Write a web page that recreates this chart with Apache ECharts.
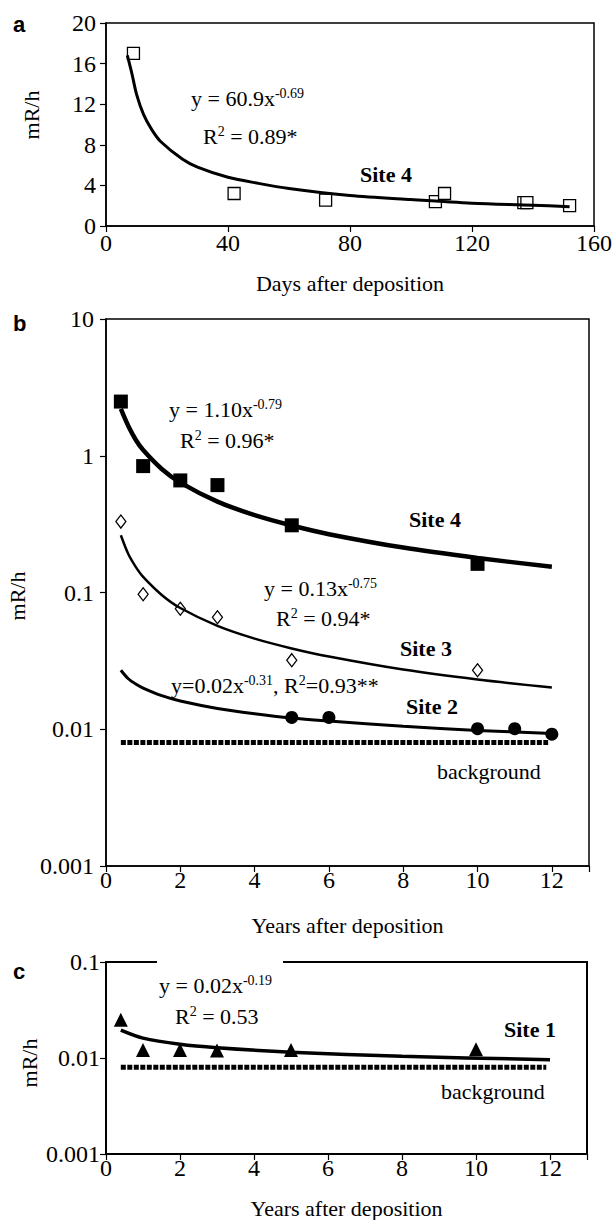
<!DOCTYPE html>
<html>
<head>
<meta charset="utf-8">
<title>Dose rate after deposition</title>
<script src="https://cdn.jsdelivr.net/npm/echarts@6/dist/echarts.min.js"></script>
<style>
  html, body { margin: 0; padding: 0; background: #fff; }
  #chart { width: 615px; height: 1220px; }
</style>
</head>
<body>
<div id="chart"></div>
<script>
// panel a - days after deposition, site 4
var daysA = [9, 42, 72, 108, 111, 137, 138, 152];
var rateA = [17.0, 3.2, 2.55, 2.4, 3.2, 2.3, 2.3, 2.0];
var fitDaysA = [7, 8.5, 10, 12.3, 15, 18, 25, 30, 40, 50, 60, 80, 100, 120, 140, 152];
var fitRateA = [16.8, 15.0, 13.0, 11.0, 9.5, 8.3, 6.6, 5.8, 4.8, 4.2, 3.7, 3.0, 2.6, 2.25, 2.05, 1.9];

// panel b - years after deposition
var years4 = [0.4, 1, 2, 3, 5, 10];
var site4 = [2.49, 0.84, 0.66, 0.61, 0.31, 0.162];
var years3 = [0.4, 1, 2, 3, 5, 10];
var site3 = [0.33, 0.097, 0.076, 0.066, 0.032, 0.027];
var years2 = [5, 6, 10, 11, 12];
var site2 = [0.0122, 0.0122, 0.0101, 0.0101, 0.0092];

var fitYears = [0.4, 0.6, 0.8, 1, 1.5, 2, 3, 4, 5, 6, 8, 10, 12];
var fitSite4 = [2.2, 1.65, 1.31, 1.1, 0.8, 0.636, 0.462, 0.368, 0.309, 0.267, 0.213, 0.179, 0.154];
var fitSite3 = [0.262, 0.191, 0.154, 0.13, 0.096, 0.077, 0.057, 0.046, 0.039, 0.034, 0.0273, 0.0231, 0.0202];
var fitSite2 = [0.027, 0.0234, 0.0214, 0.02, 0.0176, 0.0161, 0.0142, 0.013, 0.0121, 0.0115, 0.0105, 0.0098, 0.0093];

// panel c - site 1
var years1 = [0.4, 1, 2, 3, 5, 10];
var site1 = [0.025, 0.0121, 0.0121, 0.012, 0.0121, 0.0123];
var fitYears1 = [0.4, 1, 2, 3, 5, 8, 12];
var fitSite1 = [0.0195, 0.0161, 0.0139, 0.0128, 0.0115, 0.0104, 0.0096];

var bgYears = [0.4, 11.9];
var bgRate = [0.008, 0.008];

var serif = 'Liberation Serif';
var tickSize = 24;

function pairs(xs, ys) {
    var out = [];
    for (var i = 0; i < xs.length; i++) {
        out.push([xs[i], ys[i]]);
    }
    return out;
}

function logLabel(v) {
    return String(parseFloat(Number(v).toPrecision(3)));
}

var richText = {
    n: { fontFamily: serif, fontSize: 22, color: '#000', lineHeight: 24 },
    s: { fontFamily: serif, fontSize: 14, color: '#000', verticalAlign: 'top', lineHeight: 24 },
    b: { fontFamily: serif, fontSize: 22, fontWeight: 'bold', color: '#000', lineHeight: 24 }
};

function txt(x, y, text) {
    return {
        type: 'text', x: x, y: y, z: 110,
        style: { text: text, rich: richText, align: 'left', verticalAlign: 'middle' }
    };
}

function yName(x, y) {
    return {
        type: 'text', x: x, y: y, rotation: Math.PI / 2, z: 110,
        style: { text: 'mR/h', font: '22px ' + serif, fill: '#000', align: 'center', verticalAlign: 'middle' }
    };
}

function panelLetter(x, y, letter) {
    return {
        type: 'text', x: x, y: y, z: 110,
        style: { text: letter, font: 'bold 22px Liberation Sans', fill: '#000', align: 'left', verticalAlign: 'middle' }
    };
}

function xAxisOf(idx, max, interval, name, gap, margin) {
    return {
        type: 'value', gridIndex: idx, min: 0, max: max, interval: interval,
        name: name, nameLocation: 'middle', nameGap: gap,
        nameTextStyle: { fontFamily: serif, fontSize: 22, color: '#000' },
        axisLine: { onZero: false, lineStyle: { color: '#000', width: 1.5 } },
        axisTick: { length: 6, lineStyle: { color: '#000', width: 1.2 } },
        axisLabel: {
            fontFamily: serif, fontSize: tickSize, color: '#000', margin: margin,
            formatter: function (v) { return v > 12 && max === 13 ? '' : String(v); }
        },
        splitLine: { show: false }
    };
}

function logYAxis(idx, min, max, margin) {
    return {
        type: 'log', logBase: 10, gridIndex: idx, min: min, max: max,
        axisLine: { lineStyle: { color: '#000', width: 1.5 } },
        axisTick: { length: 6, lineStyle: { color: '#000', width: 1.2 } },
        axisLabel: { fontFamily: serif, fontSize: tickSize, color: '#000', margin: margin, formatter: logLabel },
        splitLine: { show: false }
    };
}

function fitLine(xi, ys, data, width) {
    return {
        type: 'line', xAxisIndex: xi, yAxisIndex: ys, data: data, smooth: 0.3,
        showSymbol: false, symbol: 'none',
        lineStyle: { color: '#000', width: width }
    };
}

function bgLine(idx) {
    return {
        type: 'line', xAxisIndex: idx, yAxisIndex: idx, data: pairs(bgYears, bgRate),
        symbol: 'none',
        lineStyle: { color: '#000', width: 5, type: [5, 1.5] }
    };
}

var chart = echarts.init(document.getElementById('chart'), null, { renderer: 'svg' });

var option = {
    backgroundColor: '#fff',
    animation: false,
    grid: [
        { left: 106, top: 23, width: 492, height: 203, show: true, borderColor: '#000', borderWidth: 1.5 },
        { left: 106, top: 319, width: 483, height: 547, show: true, borderColor: '#000', borderWidth: 1.5 },
        { left: 106, top: 962, width: 481, height: 192, show: true, borderColor: '#000', borderWidth: 2 }
    ],
    xAxis: [
        xAxisOf(0, 160, 40, 'Days after deposition', 46, 5),
        xAxisOf(1, 13, 2, 'Years after deposition', 48, 2),
        xAxisOf(2, 13, 2, 'Years after deposition', 43, 2)
    ],
    yAxis: [
        {
            type: 'value', gridIndex: 0, min: 0, max: 20, interval: 4,
            axisLine: { lineStyle: { color: '#000', width: 1.5 } },
            axisTick: { show: true, length: 6, lineStyle: { color: '#000', width: 1.2 } },
            axisLabel: { fontFamily: serif, fontSize: tickSize, color: '#000', margin: 10 },
            splitLine: { show: false }
        },
        logYAxis(1, 0.001, 10, 12),
        logYAxis(2, 0.001, 0.1, 6)
    ],
    graphic: [
        panelLetter(13, 24, 'a'),
        panelLetter(13, 323, 'b'),
        panelLetter(13, 971, 'c'),
        yName(31, 115),
        yName(17, 596),
        yName(29, 1063),
        // gap in panel c frame behind the equation
        { type: 'rect', z: 105, shape: { x: 157, y: 958, width: 126, height: 8 }, style: { fill: '#fff' } },

        txt(191, 98, '{n|y = 60.9x}{s|-0.69}'),
        txt(203, 136, '{n|R}{s|2}{n| = 0.89*}'),
        txt(360, 174, '{b|Site 4}'),

        txt(169, 409, '{n|y = 1.10x}{s|-0.79}'),
        txt(180, 440, '{n|R}{s|2}{n| = 0.96*}'),
        txt(409, 519, '{b|Site 4}'),
        txt(264, 588, '{n|y = 0.13x}{s|-0.75}'),
        txt(276, 618, '{n|R}{s|2}{n| = 0.94*}'),
        txt(400, 648, '{b|Site 3}'),
        txt(171, 685, '{n|y=0.02x}{s|-0.31}{n|, R}{s|2}{n|=0.93**}'),
        txt(406, 706, '{b|Site 2}'),
        txt(437, 771, '{n|background}'),

        txt(159, 985, '{n|y = 0.02x}{s|-0.19}'),
        txt(175, 1016, '{n|R}{s|2}{n| = 0.53}'),
        txt(504, 1029, '{b|Site 1}'),
        txt(441, 1091, '{n|background}')
    ],
    series: [
        // a
        fitLine(0, 0, pairs(fitDaysA, fitRateA), 3),
        {
            type: 'scatter', xAxisIndex: 0, yAxisIndex: 0, data: pairs(daysA, rateA),
            symbol: 'rect', symbolSize: 12,
            itemStyle: { color: '#fff', borderColor: '#000', borderWidth: 1.3, opacity: 1 }
        },
        // b
        bgLine(1),
        fitLine(1, 1, pairs(fitYears, fitSite4), 4.5),
        fitLine(1, 1, pairs(fitYears, fitSite3), 2.5),
        fitLine(1, 1, pairs(fitYears, fitSite2), 3),
        {
            type: 'scatter', xAxisIndex: 1, yAxisIndex: 1, data: pairs(years4, site4),
            symbol: 'rect', symbolSize: 14, itemStyle: { color: '#000', opacity: 1 }
        },
        {
            type: 'scatter', xAxisIndex: 1, yAxisIndex: 1, data: pairs(years3, site3),
            symbol: 'diamond', symbolSize: [10, 13],
            itemStyle: { color: '#fff', borderColor: '#000', borderWidth: 1.3, opacity: 1 }
        },
        {
            type: 'scatter', xAxisIndex: 1, yAxisIndex: 1, data: pairs(years2, site2),
            symbol: 'circle', symbolSize: 13, itemStyle: { color: '#000', opacity: 1 }
        },
        // c
        bgLine(2),
        fitLine(2, 2, pairs(fitYears1, fitSite1), 3.5),
        {
            type: 'scatter', xAxisIndex: 2, yAxisIndex: 2, data: pairs(years1, site1),
            symbol: 'triangle', symbolSize: 14, itemStyle: { color: '#000', opacity: 1 }
        }
    ]
};

chart.setOption(option);
window.addEventListener('resize', function () {
    chart.resize();
});
</script>
</body>
</html>
